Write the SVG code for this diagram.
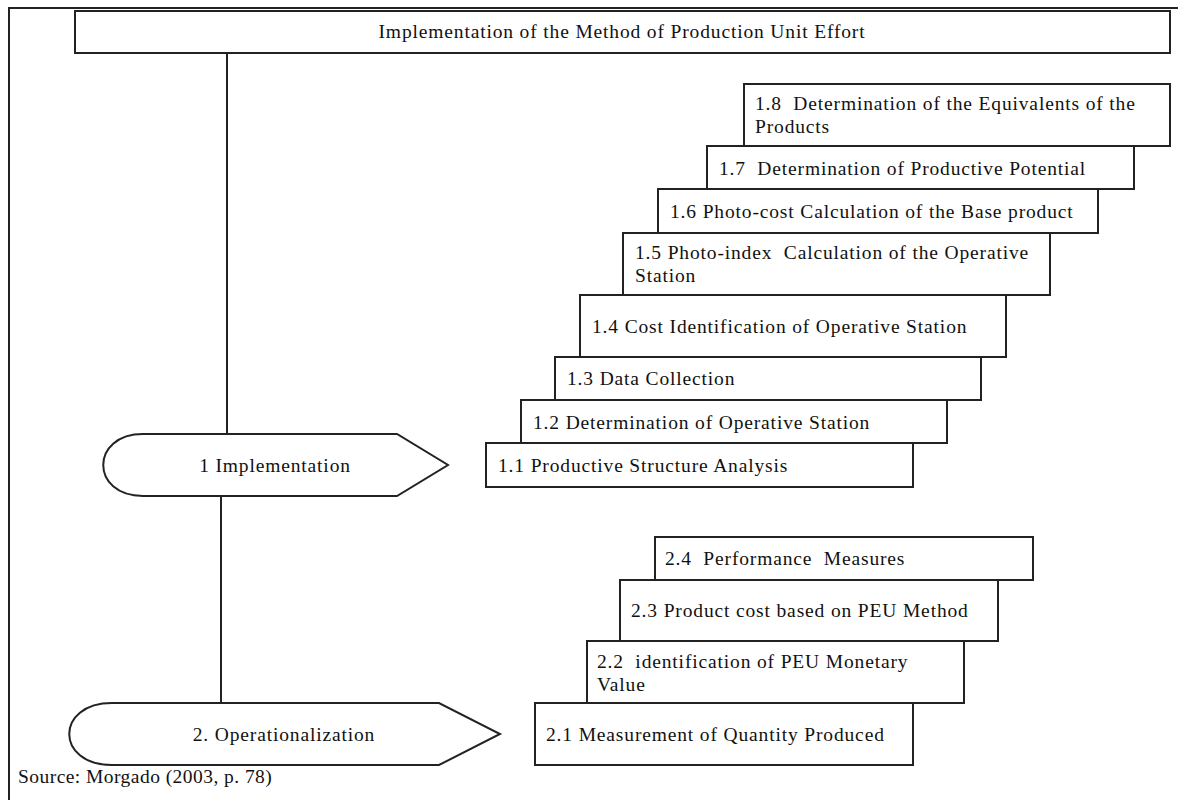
<svg xmlns="http://www.w3.org/2000/svg" width="1178" height="800" viewBox="0 0 1178 800">
<style>
.b{fill:#fff;stroke:#222;stroke-width:2}
.l{fill:none;stroke:#222;stroke-width:2}
text{font-family:"Liberation Serif","Times New Roman",serif;font-size:19.5px;letter-spacing:0.85px;fill:#111;white-space:pre}
</style>
<rect width="1178" height="800" fill="#fff"/>
<path class="l" d="M9,800 V8 H1178" stroke-width="2.5"/>
<g id="connectors">
<line class="l" x1="227" y1="53" x2="227" y2="434"/>
<line class="l" x1="221" y1="496" x2="221" y2="703"/>
</g>
<g id="title"><rect class="b" x="75" y="11" width="1095" height="42"/><text x="622" y="38" text-anchor="middle">Implementation of the Method of Production Unit Effort</text></g>
<g id="n1"><path class="b" d="M143,434 H397 L448,465 L397,496 H143 C90,496 90,434 143,434 Z"/><text x="275" y="472" text-anchor="middle">1 Implementation</text></g>
<g id="n2"><path class="b" d="M112,703 H439 L500,734 L439,765 H112 C55,765 55,703 112,703 Z"/><text x="284" y="741" text-anchor="middle">2. Operationalization</text></g>
<g id="n18"><rect class="b" x="744" y="84" width="426" height="62"/><text x="755" y="110">1.8  Determination of the Equivalents of the</text><text x="755" y="133">Products</text></g>
<g id="n17"><rect class="b" x="707" y="146" width="427" height="43"/><text x="719" y="175">1.7  Determination of Productive Potential</text></g>
<g id="n16"><rect class="b" x="658" y="189" width="440" height="44"/><text x="670" y="218">1.6 Photo-cost Calculation of the Base product</text></g>
<g id="n15"><rect class="b" x="623" y="233" width="427" height="62"/><text x="635" y="259">1.5 Photo-index  Calculation of the Operative</text><text x="635" y="282">Station</text></g>
<g id="n14"><rect class="b" x="580" y="295" width="426" height="62"/><text x="592" y="333">1.4 Cost Identification of Operative Station</text></g>
<g id="n13"><rect class="b" x="555" y="357" width="426" height="43"/><text x="567" y="385">1.3 Data Collection</text></g>
<g id="n12"><rect class="b" x="521" y="400" width="426" height="43"/><text x="533" y="429">1.2 Determination of Operative Station</text></g>
<g id="n11"><rect class="b" x="486" y="443" width="427" height="44"/><text x="498" y="472">1.1 Productive Structure Analysis</text></g>
<g id="n24"><rect class="b" x="655" y="537" width="378" height="43"/><text x="665" y="565">2.4  Performance  Measures</text></g>
<g id="n23"><rect class="b" x="620" y="580" width="378" height="61"/><text x="631" y="617">2.3 Product cost based on PEU Method</text></g>
<g id="n22"><rect class="b" x="587" y="641" width="377" height="62"/><text x="597" y="668">2.2  identification of PEU Monetary</text><text x="597" y="691">Value</text></g>
<g id="n21"><rect class="b" x="535" y="703" width="378" height="62"/><text x="546" y="741">2.1 Measurement of Quantity Produced</text></g>
<text x="18" y="783" style="letter-spacing:0.45px">Source: Morgado (2003, p. 78)</text>
</svg>
